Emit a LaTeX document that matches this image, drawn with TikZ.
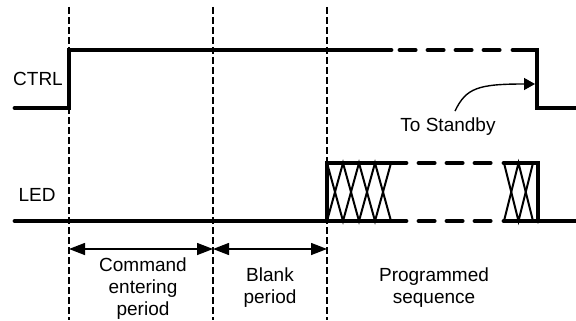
\documentclass[tikz,border=0pt]{standalone}
\usepackage{fontspec}
\setmainfont{Liberation Sans}
\usetikzlibrary{arrows.meta}

\begin{document}
\begin{tikzpicture}[x=0.5pt, y=-0.5pt,
    font=\fontsize{9.5}{11}\selectfont,
    signal/.style={line width=2.4pt, line cap=round},
    gap/.style={line width=2.4pt, line cap=round, dash pattern=on 7.6pt off 6.4pt},
    hatch/.style={line width=1pt},
    guide/.style={line width=0.7pt, dash pattern=on 3.5pt off 1.5pt},
    dim/.style={line width=0.7pt, {Triangle[length=8pt,width=6pt]}-{Triangle[length=8pt,width=6pt]}},
    note/.style={line width=0.7pt, -{Triangle[length=5.5pt,width=6pt]}}]
    \useasboundingbox (0,0) rectangle (576,320);

    % Period boundaries
    \foreach \x in {69,213,327}
        \draw[guide] (\x,7) -- (\x,320);

    % CTRL signal
    \node (ctrl) at (38,79) {CTRL};
    \draw[signal] (15,108) -- (69,108) -- (69,50) -- (391,50);
    \draw[gap] (400,50) -- (500,50);
    \draw[signal] (513,50) -- (537,50) -- (537,108) -- (576,108);

    % LED signal
    \node (led) at (37,195) {LED};
    \draw[signal] (15,221) -- (406,221);
    \draw[signal] (406,163) -- (327,163) -- (327,221);
    \draw[gap] (419,163) -- (491,163);
    \draw[gap] (419,221) -- (491,221);
    \draw[signal] (504,163) -- (538,163) -- (538,221);
    \draw[signal] (504,221) -- (576,221);

    % Sequence hatching
    \draw[hatch] (327,163) -- (343,221) -- (359,163) -- (375,221) -- (391,163);
    \draw[hatch] (327,221) -- (343,163) -- (359,221) -- (375,163) -- (391,221);
    \draw[hatch] (504,163) -- (518.5,221) -- (533,163);
    \draw[hatch] (504,221) -- (518.5,163) -- (533,221);

    % Standby note
    \node (standby) at (448,127) {To Standby};
    \coordinate (fall) at (535,84);
    \draw[note] ([xshift=3.5pt]standby.north) .. controls (466,88) and (478,84) .. (fall);

    % Periods
    \coordinate (p0) at (69,249);
    \coordinate (p1) at (213,249);
    \coordinate (p2) at (327,249);
    \draw[dim] (p0) -- (p1);
    \draw[dim] (p1) -- (p2);
    \node[align=center] (command) at (143,289) {Command\\entering\\period};
    \node[align=center] (blank) at (270,288) {Blank\\period};
    \node[align=center] (programmed) at (434,288) {Programmed\\sequence};
\end{tikzpicture}
\end{document}
